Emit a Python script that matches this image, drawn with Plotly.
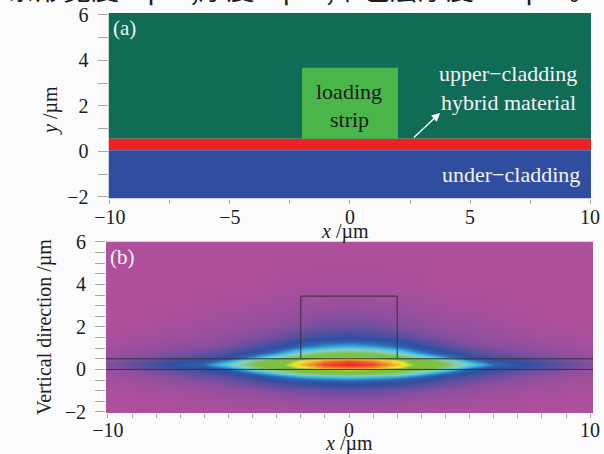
import plotly.graph_objects as go

W, H = 604, 454
PLOT_L, PLOT_R, PLOT_T, PLOT_B = 106, 593, 13, 413
SERIF = "Liberation Serif"
INK = "#1c1c1c"

# Panel (a): layer extents in micrometres
x_span = [-10.06, 10.04]
upper_cladding_y = [0.55, 6.08]
hybrid_y = [0.05, 0.55]
under_cladding_y = [-2.07, 0.05]
strip_x = [-2, 2]
strip_y = [0.55, 3.67]

# Panel (b): outline of the waveguide drawn over the field
outline_x = [-2, -2, 2, 2]
outline_y = [0.5, 3.45, 3.45, 0.5]
interface_levels = [0, 0.5]

# Panel (b): field, x >= 0 half of a symmetric mode
field_x = [0, 1, 2, 3, 4, 5, 6, 7, 8, 10]
field_y = [-2, -1.5, -1, -0.6, -0.35, -0.2, 0, 0.1, 0.25, 0.4, 0.55, 0.8, 1.1, 1.5, 2, 3, 4, 6]
field_half = [
    [.025, .025, .02, .015, .012, .01, .006, .003, 0, 0],
    [.05, .05, .045, .035, .03, .025, .02, .012, .008, 0],
    [.11, .105, .095, .08, .065, .05, .04, .03, .02, .008],
    [.18, .17, .16, .14, .115, .09, .07, .055, .04, .02],
    [.32, .30, .28, .22, .15, .12, .10, .08, .06, .03],
    [.48, .44, .40, .31, .22, .15, .12, .10, .08, .04],
    [.66, .60, .50, .42, .33, .20, .15, .12, .10, .05],
    [.88, .84, .68, .50, .40, .26, .18, .15, .12, .06],
    [1.0, .96, .78, .54, .44, .34, .23, .18, .15, .09],
    [.92, .85, .68, .50, .40, .26, .18, .15, .12, .06],
    [.60, .56, .47, .38, .27, .17, .13, .11, .09, .05],
    [.44, .41, .35, .25, .17, .13, .10, .09, .07, .04],
    [.29, .27, .23, .16, .12, .09, .07, .06, .05, .025],
    [.16, .15, .13, .10, .08, .06, .05, .04, .03, .012],
    [.10, .095, .08, .065, .05, .04, .03, .02, .012, 0],
    [.045, .04, .035, .03, .02, .015, .01, .005, 0, 0],
    [.015, .015, .01, .01, 0, 0, 0, 0, 0, 0],
    [0, 0, 0, 0, 0, 0, 0, 0, 0, 0],
]
field_stops = [
    [0.0, "#B04F9B"], [0.07, "#8A4F9F"], [0.16, "#2F4FA2"], [0.22, "#2F62B0"],
    [0.30, "#3CC4E8"], [0.36, "#8CCFC0"], [0.45, "#7DC143"], [0.60, "#7DC143"],
    [0.70, "#F4EC30"], [0.85, "#F3892B"], [1.0, "#ED2024"],
]

# Tick labels
a_x_ticks = [-10, -5, 0, 5, 10]
a_y_ticks = [-2, 0, 2, 4, 6]
b_x_ticks = [-10, 0, 10]
b_y_ticks = [-2, 0, 2, 4, 6]

xs = [-v for v in field_x[:0:-1]] + field_x
zs = [row[:0:-1] + row for row in field_half]

PW, PH = PLOT_R - PLOT_L, PLOT_B - PLOT_T

def fx(p):
    return (p - PLOT_L) / PW

def fy(p):
    return 1 - (p - PLOT_T) / PH

fig = go.Figure()
fig.add_trace(go.Heatmap(
    x=xs, y=field_y, z=zs, zmin=0, zmax=1, zsmooth="best",
    colorscale=field_stops, showscale=False, hoverinfo="skip",
    xaxis="x2", yaxis="y2",
))
for lvl in interface_levels:
    fig.add_trace(go.Scatter(x=[-10.08, 10.12], y=[lvl, lvl], mode="lines",
                             line=dict(color="#33333a", width=1), xaxis="x2", yaxis="y2",
                             hoverinfo="skip", showlegend=False))
fig.add_trace(go.Scatter(x=outline_x, y=outline_y, mode="lines",
                         line=dict(color="#33333a", width=1), xaxis="x2", yaxis="y2",
                         hoverinfo="skip", showlegend=False))

def band(x0, x1, y0, y1, color):
    return dict(type="rect", xref="x", yref="y", x0=x0, x1=x1, y0=y0, y1=y1,
                fillcolor=color, line_width=0, layer="below")

shapes = [
    band(x_span[0], x_span[1], upper_cladding_y[0], upper_cladding_y[1], "#106B57"),
    band(x_span[0], x_span[1], hybrid_y[0], hybrid_y[1], "#ED2227"),
    band(x_span[0], x_span[1], under_cladding_y[0], under_cladding_y[1], "#304EA0"),
    band(strip_x[0], strip_x[1], strip_y[0], strip_y[1], "#4AB64A"),
]

def axis(**kw):
    base = dict(ticks="outside", ticklen=10, tickcolor="#a8a8a8", tickwidth=1,
                showgrid=False, zeroline=False, showline=False, automargin=False,
                tickfont=dict(family=SERIF, size=20, color=INK),
                title=None)
    base.update(kw)
    return base

def t(text, x, y, size=20, color=INK, **kw):
    return dict(text=text, x=fx(x), y=fy(y), xref="paper", yref="paper", showarrow=False,
                xanchor="center", yanchor="middle",
                font=dict(family=SERIF, size=size, color=color), **kw)

WHITE = "#f4f4f4"
annotations = [
    t("(a)", 124, 28, size=21, color=WHITE),
    t("loading", 349, 91, size=22),
    t("strip", 349, 119, size=22),
    t("upper\u2212cladding", 508, 74, size=22, color=WHITE),
    t("hybrid material", 508, 102, size=22, color=WHITE),
    t("under\u2212cladding", 511, 174, size=22, color=WHITE),
    t("<i>x</i> /\u00b5m", 345, 231, size=20),
    t("<i>y</i> /\u00b5m", 50, 111, size=20, textangle=-90),
    t("(b)", 122, 257, size=21, color=WHITE),
    t("<i>x</i> /\u00b5m", 349, 444, size=20),
    t("Vertical direction /\u00b5m", 44, 327, size=20, textangle=-90),
    dict(x=3.75, y=1.69, ax=2.6, ay=0.55, xref="x", yref="y", axref="x", ayref="y", text="",
         showarrow=True, arrowhead=2, arrowsize=1.2, arrowwidth=1.4, arrowcolor="#ffffff"),
]

fig.update_layout(
    template="none",
    width=W, height=H, margin=dict(l=PLOT_L, r=W - PLOT_R, t=PLOT_T, b=H - PLOT_B, pad=0), autosize=False,
    paper_bgcolor="#FBFBFB", plot_bgcolor="#FBFBFB", showlegend=False,
    shapes=shapes, annotations=annotations,
    title=dict(text="\u6761\u5f62\u5bbd\u5ea6 4 \u03bcm,\u539a\u5ea6 3 \u03bcm,\u4e0b\u5305\u5c42\u539a\u5ea6 2.4 \u03bcm\u3002",
               x=0.5, xanchor="center", xref="container", y=1 - 0 / H, yref="container", yanchor="bottom",
               font=dict(family="Noto Sans CJK SC", size=28, color=INK)),
    xaxis=axis(domain=[fx(108.5), fx(591)], range=[x_span[0], x_span[1]], anchor="y",
               tickvals=a_x_ticks, ticktext=["\u221210", "\u22125", "0", "5", "10"], ticklen=4,
               ticklabelstandoff=-4,
               minor=dict(dtick=2.5, ticks="outside", ticklen=4, tickcolor="#a8a8a8")),
    yaxis=axis(domain=[fy(198.5), fy(13)], range=[under_cladding_y[0], upper_cladding_y[1]], anchor="x",
               tickvals=a_y_ticks, ticktext=["\u22122", "0", "2", "4", "6"],
               ticklabelstandoff=5,
               minor=dict(dtick=1, ticks="outside", ticklen=10, tickcolor="#a8a8a8")),
    xaxis2=axis(domain=[fx(106), fx(593)], range=[-10.08, 10.12], anchor="y2",
                tickvals=b_x_ticks, ticktext=["\u221210", "0", "10"], ticklen=4,
                ticklabelstandoff=-5,
                minor=dict(dtick=1, ticks="outside", ticklen=4, tickcolor="#a8a8a8")),
    yaxis2=axis(domain=[fy(413), fy(241.5)], range=[-2.05, 6.02], anchor="x2",
                tickvals=b_y_ticks, ticktext=["\u22122", "0", "2", "4", "6"],
                ticklabelstandoff=5,
                minor=dict(dtick=0.5, ticks="outside", ticklen=10, tickcolor="#a8a8a8")),
)
fig.write_html("out.html", config={"displayModeBar": False},
               post_script="document.body.style.margin='0';document.body.style.background='#FBFBFB';")
